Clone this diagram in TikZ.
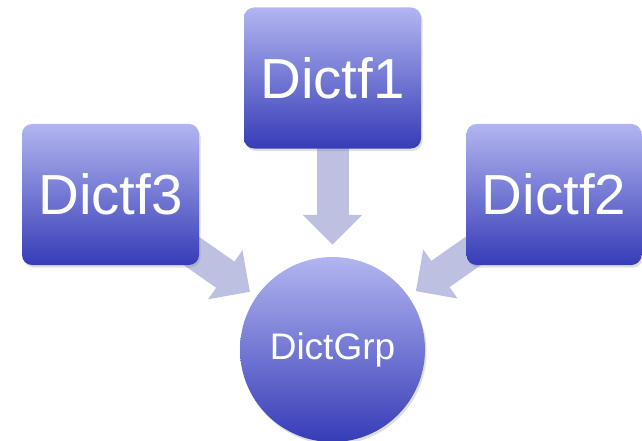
\documentclass[tikz,border=0pt]{standalone}
\usepackage{fontspec}
\setmainfont{Liberation Sans}
\usetikzlibrary{arrows.meta,shadows}
\pgfdeclarelayer{background}
\pgfsetlayers{background,main}
\definecolor{boxtop}{RGB}{178,181,240}
\definecolor{boxbot}{RGB}{54,60,183}
\definecolor{arrowc}{RGB}{190,192,226}
\begin{document}
\begin{tikzpicture}[x=1pt,y=-1pt,
  srcbox/.style={rectangle, rounded corners=10pt, minimum width=177pt, minimum height=141pt,
    top color=boxtop, bottom color=boxbot, text=white, inner sep=0pt,
    font=\fontsize{56.5}{62}\selectfont,
    drop shadow={opacity=0.25, shadow xshift=1.5pt, shadow yshift=-2.5pt}},
  hub/.style={circle, minimum size=185pt, inner sep=0pt,
    top color=boxtop, bottom color=boxbot, text=white,
    font=\fontsize{37}{41}\selectfont,
    drop shadow={opacity=0.25, shadow xshift=1.5pt, shadow yshift=-2.5pt}},
  flow/.style={draw=arrowc, line width=32pt, -{Triangle[width=58pt,length=30pt]}}]
\useasboundingbox (0,0) rectangle (642,441);
\node[srcbox] (f1) at (332.5,78) {Dictf1};
\node[srcbox] (f3) at (110.5,194.5) {Dictf3};
\node[srcbox, minimum width=175pt] (f2) at (554,194.5) {Dictf2};
\node[hub] (g) at (332.5,349.5) {DictGrp};
\begin{pgfonlayer}{background}
  \draw[flow, shorten >=12pt] (f1.center) -- (g);
  \draw[flow, shorten >=8pt] (f3.center) -- (g);
  \draw[flow, shorten >=9pt] (f2.center) -- (g);
\end{pgfonlayer}
\end{tikzpicture}
\end{document}
